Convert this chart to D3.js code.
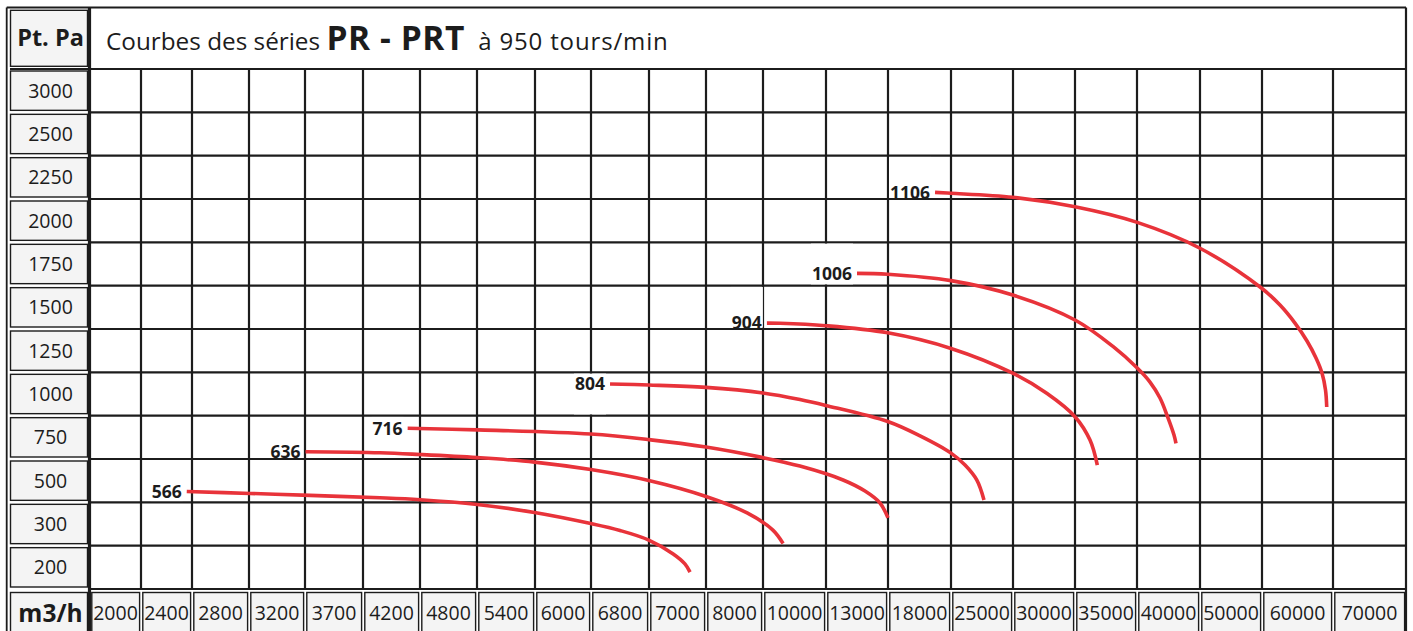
<!DOCTYPE html>
<html>
<head>
<meta charset="utf-8">
<script src="https://cdn.jsdelivr.net/npm/d3@7"></script>
<style>
  html, body { margin: 0; padding: 0; background: #fff; }
  svg { display: block; font-family: "Open Sans", "DejaVu Sans", sans-serif; }
</style>
</head>
<body>
<svg id="chart" width="1413" height="631"></svg>
<script>
// ---------------------------------------------------------------------------
// Data
// ---------------------------------------------------------------------------
// Air flow (m3/h) shown along the bottom row
const flowTicks = [2000, 2400, 2800, 3200, 3700, 4200, 4800, 5400, 6000, 6800, 7000,
                   8000, 10000, 13000, 18000, 25000, 30000, 35000, 40000, 50000, 60000, 70000];
// Total pressure (Pa) shown down the left column
const pressureTicks = [3000, 2500, 2250, 2000, 1750, 1500, 1250, 1000, 750, 500, 300, 200];

// Fan sizes of the PR / PRT series, one curve each
const models = ["566", "636", "716", "804", "904", "1006", "1106"];

// Curve points: flow (m3/h) and matching total pressure (Pa)
const flow566 = [2550, 3010, 3490, 4100, 4500, 5100, 5700, 6390, 6800, 6900, 6985, 7130, 7220];
const pa566   = [450, 441, 432, 421, 412, 390, 353, 302, 285, 263, 231, 208, 189];

const flow636 = [3450, 4100, 4500, 5100, 5700, 6390, 6900, 7500, 8420, 9280, 9620];
const pa636   = [667, 661, 651, 633, 607, 564, 501, 427, 351, 286, 255];

const flow716 = [4370, 5100, 6390, 6900, 7500, 8950, 10260, 12330, 13640, 14840, 15480];
const pa716   = [802, 793, 769, 737, 694, 633, 584, 504, 452, 397, 328];

const flow804 = [6660, 6900, 7500, 8950, 10260, 11500, 15460, 18060, 21530, 23100, 24410, 25160];
const pa804   = [1058, 1052, 1038, 1006, 968, 934, 841, 758, 659, 590, 504, 411];

const flow904 = [9080, 9520, 11500, 15460, 21530, 27480, 30220, 32500, 33710, 34300];
const pa904   = [1409, 1408, 1394, 1353, 1263, 1120, 1004, 869, 734, 590];

const flow1006 = [13000, 15460, 21530, 27480, 32500, 35580, 37500, 38520, 39320, 39960, 40880, 41200];
const pa1006   = [1696, 1691, 1654, 1571, 1427, 1273, 1150, 1069, 977, 862, 763, 715];

const flow1106 = [19740, 21530, 27480, 32500, 37500, 45040, 54620, 57370, 59620, 61320, 62570, 63400, 63890, 64060];
const pa1106   = [2163, 2158, 2135, 2080, 1990, 1841, 1610, 1513, 1409, 1306, 1208, 1121, 1023, 925];

const seriesFlows = [flow566, flow636, flow716, flow804, flow904, flow1006, flow1106];
const seriesPressures = [pa566, pa636, pa716, pa804, pa904, pa1006, pa1106];

// ---------------------------------------------------------------------------
// Layout
// ---------------------------------------------------------------------------
const frameLeft = 6.7, cellLeft = 10, frameTop = 7.5;
const plotLeft = 90, plotRight = 1406, plotTop = 69, plotBottom = 589;
const footerBottom = 660;
// relative column widths of the table (columns fit their labels)
const columnWeights = [51, 51, 57, 56, 58, 57, 57, 58, 56, 58, 57, 57,
                       63, 62, 63, 62, 62, 62, 63, 62, 71, 73];

const ink = "#1c1c1c";
const cellFill = "#f4f4f4";
const curveColor = "#e8333a";

const svg = d3.select("#chart");

// Column edges, proportional to the weights
const totalWeight = d3.sum(columnWeights);
const colEdges = [plotLeft];
columnWeights.forEach(w => colEdges.push(colEdges[colEdges.length - 1] + w * (plotRight - plotLeft) / totalWeight));
const colCenters = flowTicks.map((_, i) => (colEdges[i] + colEdges[i + 1]) / 2);

// Piecewise scales: each tick value sits at the centre of its cell
const x = d3.scaleLinear().domain(flowTicks).range(colCenters);
const rowBand = d3.scaleBand().domain(pressureTicks).range([plotTop, plotBottom]);
const y = d3.scaleLinear()
  .domain(pressureTicks)
  .range(pressureTicks.map(p => rowBand(p) + rowBand.bandwidth() / 2));

// ---------------------------------------------------------------------------
// Table cells
// ---------------------------------------------------------------------------
const cells = svg.append("g");

// header cell "Pt. Pa"
cells.append("rect")
  .attr("x", cellLeft + 0.5).attr("y", frameTop + 2.8)
  .attr("width", plotLeft - cellLeft - 3).attr("height", plotTop - frameTop - 5.5)
  .attr("fill", cellFill).attr("stroke", ink).attr("stroke-width", 1.4);

// pressure label cells
cells.selectAll("rect.ycell").data(pressureTicks).join("rect")
  .attr("class", "ycell")
  .attr("x", cellLeft + 0.5)
  .attr("y", d => rowBand(d) + 2)
  .attr("width", plotLeft - cellLeft - 3)
  .attr("height", rowBand.bandwidth() - 4)
  .attr("fill", cellFill).attr("stroke", ink).attr("stroke-width", 1.4);

// footer cell "m3/h"
cells.append("rect")
  .attr("x", cellLeft + 0.5).attr("y", plotBottom + 3.5)
  .attr("width", plotLeft - cellLeft - 3).attr("height", footerBottom - plotBottom)
  .attr("fill", cellFill).attr("stroke", ink).attr("stroke-width", 1.4);

// flow label cells
cells.selectAll("rect.xcell").data(flowTicks).join("rect")
  .attr("class", "xcell")
  .attr("x", (d, i) => colEdges[i] + 1.8)
  .attr("y", plotBottom + 3.5)
  .attr("width", (d, i) => colEdges[i + 1] - colEdges[i] - 3.2)
  .attr("height", footerBottom - plotBottom)
  .attr("fill", cellFill).attr("stroke", ink).attr("stroke-width", 1.4);

// ---------------------------------------------------------------------------
// Grid
// ---------------------------------------------------------------------------
const grid = svg.append("g").attr("stroke", ink).attr("stroke-width", 2.2);

// horizontal rules (top of each row + bottom of the plot)
const hLines = pressureTicks.map(p => rowBand(p)).concat([plotBottom]);
grid.selectAll("line.h").data(hLines).join("line")
  .attr("class", "h")
  .attr("x1", d => d === plotTop ? cellLeft : plotLeft)
  .attr("x2", plotRight)
  .attr("y1", d => d).attr("y2", d => d);

// vertical rules between flow columns
grid.selectAll("line.v").data(colEdges.slice(1)).join("line")
  .attr("class", "v")
  .attr("x1", d => d).attr("x2", d => d)
  .attr("y1", plotTop).attr("y2", (d, i) => i === colEdges.length - 2 ? footerBottom : plotBottom);

// outer frame
const frame = svg.append("g").attr("stroke", ink);
frame.append("line").attr("x1", frameLeft).attr("x2", frameLeft)
  .attr("y1", frameTop).attr("y2", footerBottom).attr("stroke-width", 1.8);
frame.append("line").attr("x1", frameLeft).attr("x2", plotRight)
  .attr("y1", frameTop).attr("y2", frameTop).attr("stroke-width", 2);
frame.append("line").attr("x1", plotRight).attr("x2", plotRight)
  .attr("y1", frameTop).attr("y2", plotTop).attr("stroke-width", 2.2);
// heavy rule separating the label column
frame.append("line").attr("x1", plotLeft - 0.5).attr("x2", plotLeft - 0.5)
  .attr("y1", frameTop).attr("y2", footerBottom).attr("stroke-width", 3.2);

// ---------------------------------------------------------------------------
// Axis texts
// ---------------------------------------------------------------------------
const labelColumnCenter = (cellLeft + plotLeft) / 2 + 0.5;

svg.append("text")
  .attr("x", labelColumnCenter).attr("y", 46)
  .attr("text-anchor", "middle")
  .attr("font-weight", "bold").attr("font-size", 23.5).attr("fill", ink)
  .text("Pt. Pa");

svg.selectAll("text.ylab").data(pressureTicks).join("text")
  .attr("class", "ylab")
  .attr("x", labelColumnCenter)
  .attr("y", d => rowBand(d) + rowBand.bandwidth() / 2 + 7)
  .attr("text-anchor", "middle")
  .attr("font-size", 19.5).attr("fill", ink)
  .text(d => d);

svg.append("text")
  .attr("x", labelColumnCenter).attr("y", 621.5)
  .attr("text-anchor", "middle")
  .attr("font-weight", "bold").attr("font-size", 24.5).attr("fill", ink)
  .text("m3/h");

svg.selectAll("text.xlab").data(flowTicks).join("text")
  .attr("class", "xlab")
  .attr("x", (d, i) => colCenters[i])
  .attr("y", 620)
  .attr("text-anchor", "middle")
  .attr("font-size", 19.5).attr("fill", ink)
  .text(d => d);

// Title
const title = svg.append("text")
  .attr("x", 106).attr("y", 50)
  .attr("fill", ink);
title.append("tspan").attr("font-size", 24.3).text("Courbes des séries ");
title.append("tspan").attr("font-size", 33.5).attr("font-weight", "bold")
  .attr("letter-spacing", 0.6).text("PR - PRT");
title.append("tspan").attr("font-size", 24).attr("dx", 6)
  .attr("letter-spacing", 0.85).text(" à 950 tours/min");

// ---------------------------------------------------------------------------
// Fan curves with their size labels
// ---------------------------------------------------------------------------
const line = d3.line()
  .x(d => x(d[0]))
  .y(d => y(d[1]))
  .curve(d3.curveCatmullRom.alpha(0.5));

const series = models.map((m, i) => ({
  model: m,
  points: seriesFlows[i].map((f, j) => [f, seriesPressures[i][j]])
}));

const boxGroup = svg.append("g");   // white backgrounds behind the labels
const curveGroup = svg.append("g");
const labelGroup = svg.append("g");

const labelTexts = labelGroup.selectAll("text").data(series).join("text")
  .attr("x", d => x(d.points[0][0]) - 5)
  .attr("y", d => y(d.points[0][1]) + 6.3)
  .attr("text-anchor", "end")
  .attr("font-weight", "bold").attr("font-size", 17.5).attr("fill", ink)
  .text(d => d.model);

// each label sits on a white box filling the row it belongs to
labelTexts.each(function (d) {
  const bb = this.getBBox();
  const yStart = y(d.points[0][1]);
  const row = pressureTicks.reduce((best, p) =>
    Math.abs(rowBand(p) + rowBand.bandwidth() / 2 - yStart) <
    Math.abs(rowBand(best) + rowBand.bandwidth() / 2 - yStart) ? p : best, pressureTicks[0]);
  boxGroup.append("rect")
    .attr("x", bb.x - 1).attr("width", bb.width + 2)
    .attr("y", rowBand(row) + 1.3).attr("height", rowBand.bandwidth() - 2.6)
    .attr("fill", "#fff");
});

curveGroup.selectAll("path").data(series).join("path")
  .attr("d", d => line(d.points))
  .attr("fill", "none")
  .attr("stroke", curveColor)
  .attr("stroke-width", 3.6)
  .attr("stroke-linecap", "butt");
</script>
</body>
</html>
